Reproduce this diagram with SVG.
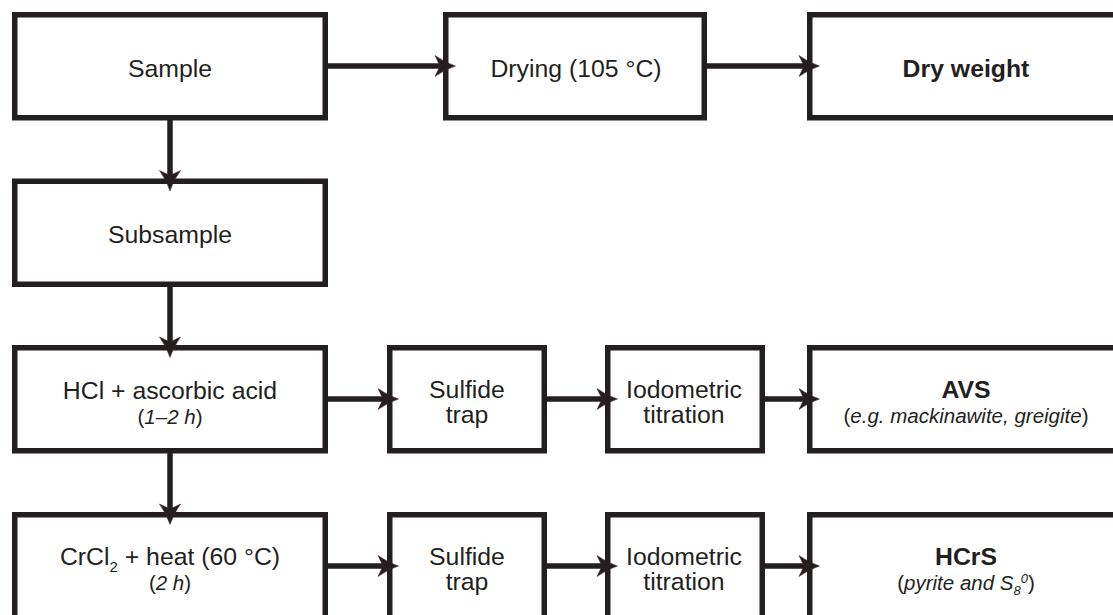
<svg xmlns="http://www.w3.org/2000/svg" width="1113" height="615" viewBox="0 0 1113 615">
<style>
.box{fill:#fff;stroke:#231f20;stroke-width:5.5}
.con{fill:none;stroke:#231f20;stroke-width:5.5}
text{font-family:"Liberation Sans",Arial,Helvetica,sans-serif;fill:#231f20;text-anchor:middle}
.m{font-size:24.8px}
.b{font-size:24.8px;font-weight:bold}
.s{font-size:20.5px}
.i{font-style:italic}
</style>
<defs>
<marker id="ah" markerUnits="userSpaceOnUse" markerWidth="30" markerHeight="30" viewBox="-15 -15 30 30" refX="0" refY="0" orient="auto">
<path d="M10.5,0 Q0,-3.5 -10,-10.5 L-5,0 L-10,10.5 Q0,3.5 10.5,0 Z" fill="#231f20" stroke="#4a1c1c" stroke-width="0.5"/>
</marker>
</defs>
<rect width="1113" height="615" fill="#fff"/>
<g id="sample">
<rect class="box" x="14.75" y="14.75" width="310.5" height="103"/>
<text class="m" x="170" y="77">Sample</text>
</g>
<g id="drying">
<rect class="box" x="445.75" y="14.75" width="258.5" height="103"/>
<text class="m" x="576" y="77">Drying (105 °C)</text>
</g>
<g id="dryweight">
<rect class="box" x="809.75" y="14.75" width="312.5" height="103"/>
<text class="b" x="966" y="77">Dry weight</text>
</g>
<g id="subsample">
<rect class="box" x="14.75" y="181.25" width="310.5" height="103"/>
<text class="m" x="170" y="243">Subsample</text>
</g>
<g id="hcl">
<rect class="box" x="14.75" y="347.75" width="310.5" height="103"/>
<text class="m" x="170" y="399">HCl + ascorbic acid</text>
<text class="s" x="170" y="424">(<tspan class="i">1–2 h</tspan>)</text>
</g>
<g id="trap1">
<rect class="box" x="389.75" y="347.75" width="154.5" height="103"/>
<text class="m" x="467" y="398">Sulfide</text>
<text class="m" x="467" y="423">trap</text>
</g>
<g id="titration1">
<rect class="box" x="607.75" y="347.75" width="154.5" height="103"/>
<text class="m" x="684" y="398">Iodometric</text>
<text class="m" x="684" y="423">titration</text>
</g>
<g id="avs">
<rect class="box" x="809.75" y="347.75" width="312.5" height="103"/>
<text class="b" x="966" y="398">AVS</text>
<text class="s" x="966" y="423">(<tspan class="i">e.g. mackinawite, greigite</tspan>)</text>
</g>
<g id="crcl2">
<rect class="box" x="14.75" y="514.75" width="310.5" height="103"/>
<text class="m" x="170" y="565">CrCl<tspan font-size="15" dy="7">2</tspan><tspan dy="-7"> + heat (60 °C)</tspan></text>
<text class="s" x="170" y="590">(<tspan class="i">2 h</tspan>)</text>
</g>
<g id="trap2">
<rect class="box" x="389.75" y="514.75" width="154.5" height="103"/>
<text class="m" x="467" y="565">Sulfide</text>
<text class="m" x="467" y="590">trap</text>
</g>
<g id="titration2">
<rect class="box" x="607.75" y="514.75" width="154.5" height="103"/>
<text class="m" x="684" y="565">Iodometric</text>
<text class="m" x="684" y="590">titration</text>
</g>
<g id="hcrs">
<rect class="box" x="809.75" y="514.75" width="312.5" height="103"/>
<text class="b" x="966" y="565">HCrS</text>
<text class="s" x="966" y="590">(<tspan class="i">pyrite and S</tspan><tspan class="i" font-size="13" dy="5">8</tspan><tspan class="i" font-size="13" dy="-12">0</tspan><tspan dy="7">)</tspan></text>
</g>
<g id="connectors">
<path class="con" d="M328,66 H445" marker-end="url(#ah)"/>
<path class="con" d="M707,66 H809" marker-end="url(#ah)"/>
<path class="con" d="M170,120 V180.5" marker-end="url(#ah)"/>
<path class="con" d="M170,287 V347" marker-end="url(#ah)"/>
<path class="con" d="M170,453 V514" marker-end="url(#ah)"/>
<path class="con" d="M328,399 H388" marker-end="url(#ah)"/>
<path class="con" d="M547,399 H607" marker-end="url(#ah)"/>
<path class="con" d="M765,399 H809" marker-end="url(#ah)"/>
<path class="con" d="M328,566 H388" marker-end="url(#ah)"/>
<path class="con" d="M547,566 H607" marker-end="url(#ah)"/>
<path class="con" d="M765,566 H809" marker-end="url(#ah)"/>
</g>
</svg>
